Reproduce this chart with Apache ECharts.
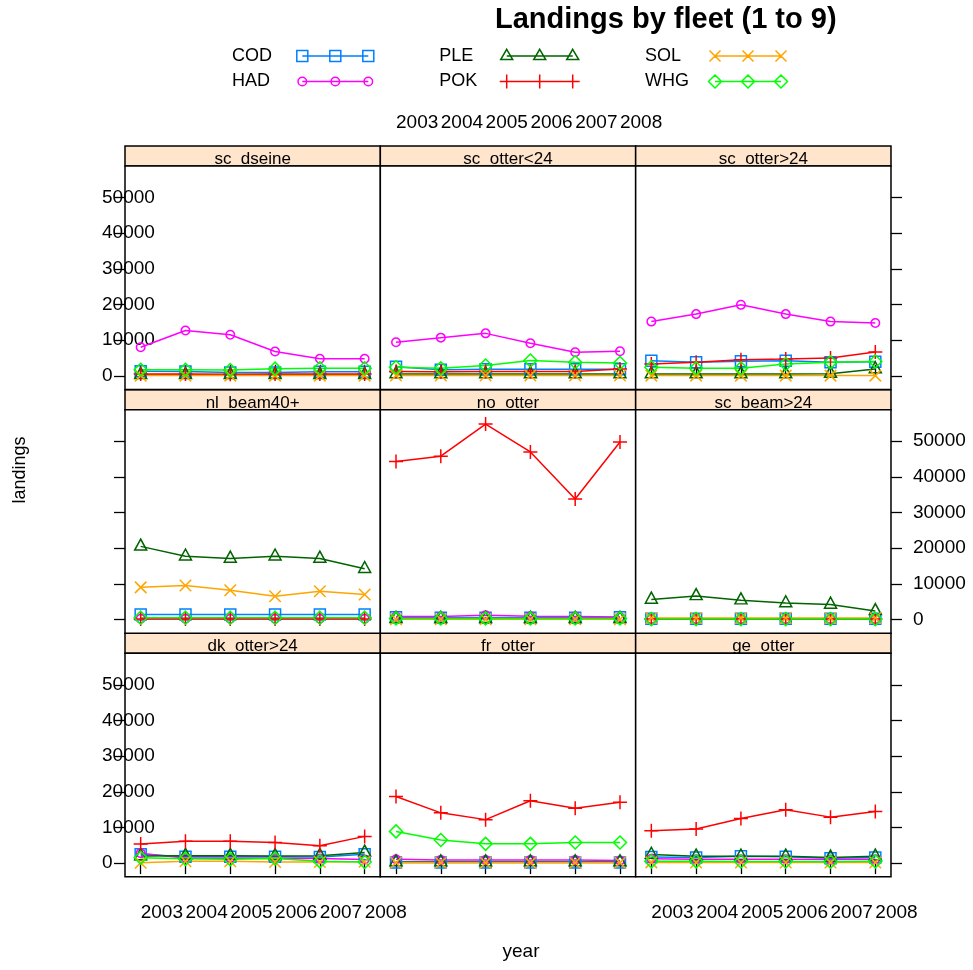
<!DOCTYPE html>
<html><head><meta charset="utf-8">
<script src="https://cdn.jsdelivr.net/npm/echarts@6/dist/echarts.min.js"></script>
<style>html,body{margin:0;padding:0;background:#fff}#c{width:973px;height:970px}</style>
</head><body><div id="c"></div>
<script>
// ---------- data ----------
const years = [2003, 2004, 2005, 2006, 2007, 2008];
const fleets = ['dk_otter>24', 'fr_otter', 'ge_otter', 'nl_beam40+', 'no_otter', 'sc_beam>24', 'sc_dseine', 'sc_otter<24', 'sc_otter>24'];
const yTicks = [0, 10000, 20000, 30000, 40000, 50000];
const species = ['COD', 'HAD', 'PLE', 'POK', 'SOL', 'WHG'];
// one row per fleet (order of `fleets`), one value per year
const COD = [
  [2500, 1800, 1800, 1800, 1700, 2500],
  [200, 150, 150, 150, 150, 200],
  [1700, 1600, 1900, 1800, 1400, 1600],
  [1400, 1400, 1400, 1400, 1400, 1400],
  [600, 500, 500, 500, 500, 600],
  [200, 200, 200, 200, 200, 200],
  [1300, 1200, 900, 900, 1100, 1100],
  [2500, 1700, 1800, 1800, 1800, 1800],
  [4200, 3800, 4100, 4200, 3800, 3900]
];
const HAD = [
  [2800, 1400, 1400, 1400, 1300, 1000],
  [1100, 900, 900, 900, 900, 700],
  [1200, 1100, 1100, 1100, 1000, 1100],
  [200, 200, 200, 200, 200, 200],
  [800, 800, 1200, 900, 800, 700],
  [100, 100, 100, 100, 100, 100],
  [8000, 12700, 11500, 6800, 4800, 4800],
  [9400, 10700, 11900, 9100, 6600, 6900],
  [15200, 17300, 19900, 17300, 15200, 14800]
];
const PLE = [
  [2000, 2100, 2100, 2000, 2100, 3000],
  [300, 300, 300, 300, 300, 300],
  [2400, 1900, 1900, 1900, 1600, 1900],
  [20500, 17700, 17100, 17700, 17100, 14200],
  [200, 200, 200, 200, 200, 200],
  [5600, 6600, 5400, 4600, 4200, 2400],
  [300, 300, 300, 300, 300, 300],
  [500, 500, 500, 500, 500, 500],
  [500, 500, 500, 500, 600, 1900]
];
const POK = [
  [5350, 6100, 6100, 5800, 4900, 7500],
  [18700, 14100, 12200, 17500, 15400, 17100],
  [9100, 9600, 12500, 15000, 12900, 14500],
  [100, 100, 100, 100, 100, 100],
  [44300, 45800, 54800, 47000, 33800, 49800],
  [100, 100, 100, 100, 100, 100],
  [500, 500, 400, 500, 500, 500],
  [1200, 1100, 1200, 1200, 1200, 1900],
  [3300, 3800, 4500, 4700, 5000, 6700]
];
const SOL = [
  [100, 500, 500, 300, 300, 400],
  [100, 100, 100, 100, 100, 100],
  [200, 150, 150, 150, 150, 150],
  [9000, 9500, 8200, 6500, 7900, 7000],
  [50, 50, 50, 50, 50, 50],
  [400, 400, 400, 400, 400, 400],
  [50, 50, 50, 50, 50, 50],
  [100, 100, 100, 100, 100, 100],
  [50, 50, 50, 50, 50, 50]
];
const WHG = [
  [1500, 1200, 1100, 1300, 500, 300],
  [8900, 6500, 5400, 5400, 5800, 5800],
  [500, 500, 450, 450, 400, 500],
  [500, 500, 500, 500, 500, 500],
  [300, 300, 300, 300, 300, 300],
  [100, 100, 100, 100, 100, 100],
  [1700, 1700, 1600, 2000, 2100, 2100],
  [2400, 2100, 2900, 4300, 3800, 3600],
  [2400, 2100, 2100, 3300, 3800, 4000]
];
const DATA = { COD, HAD, PLE, POK, SOL, WHG };

// ---------- styles ----------
const FONT = "'Liberation Sans', Arial, Helvetica, sans-serif";
const COLORS = { COD: '#0080ff', HAD: '#ff00ff', PLE: '#006400', POK: '#ff0000', SOL: '#ffa500', WHG: '#00ff00' };
const SYMBOLS = {
  COD: { symbol: 'rect', size: 11, offset: [0, 0] },
  HAD: { symbol: 'circle', size: 8.5, offset: [0, 0] },
  PLE: { symbol: 'triangle', size: [12, 11], offset: [0, -1.8] },
  POK: { symbol: 'path://M7 0L7 14M0 7L14 7', size: 14, offset: [0, 0] },
  SOL: { symbol: 'path://M0 0L10 10M10 0L0 10', size: 11.5, offset: [0, 0] },
  WHG: { symbol: 'diamond', size: 13, offset: [0, 0] }
};
const LW = 1.5;

// layout
const L0 = 125, CW = 255.33, T0 = 166, RH = 243.67, PH = 223.5, SH = 20;
const XMIN = 2002.65, XMAX = 2008.35, YMIN = -3850, YMAX = 58850;

function legendIcon(sp) {
  const cs = [7, 40, 73];
  let p = 'M0 0L0 0M80 14L80 14M7 7L73 7';
  cs.forEach(c => {
    if (sp === 'COD') p += `M${c - 5.5} 1.5L${c + 5.5} 1.5L${c + 5.5} 12.5L${c - 5.5} 12.5Z`;
    if (sp === 'HAD') p += `M${c + 4.25} 7A4.25 4.25 0 1 1 ${c - 4.25} 7A4.25 4.25 0 1 1 ${c + 4.25} 7Z`;
    if (sp === 'PLE') p += `M${c} 0.3L${c + 6} 10.6L${c - 6} 10.6Z`;
    if (sp === 'POK') p += `M${c} 0L${c} 14M${c - 7} 7L${c + 7} 7`;
    if (sp === 'SOL') p += `M${c - 5.5} 1.5L${c + 5.5} 12.5M${c + 5.5} 1.5L${c - 5.5} 12.5`;
    if (sp === 'WHG') p += `M${c} 0.5L${c + 6.5} 7L${c} 13.5L${c - 6.5} 7Z`;
  });
  return 'path://' + p;
}

const grids = [], xAxes = [], yAxes = [], series = [], graphics = [];
const labelStyle = { color: '#000', fontSize: 19, fontFamily: FONT };
fleets.forEach((f, i) => {
  const r = 2 - Math.floor(i / 3), c = i % 3;
  const left = L0 + c * CW, top = T0 + r * RH;
  grids.push({ left, top, width: CW, height: PH, show: true, backgroundColor: '#fff', borderColor: '#000', borderWidth: 1.5, containLabel: false, outerBoundsMode: 'none' });
  xAxes.push({
    gridIndex: i, type: 'value', min: XMIN, max: XMAX,
    position: r === 0 ? 'top' : 'bottom', offset: r === 0 ? SH : 0,
    show: r !== 1,
    axisLine: { show: false }, splitLine: { show: false },
    axisTick: { show: true, inside: false, length: 11, customValues: years, lineStyle: { color: '#000', width: 1.3 } },
    axisLabel: Object.assign({ show: (r === 0 && c === 1) || (r === 2 && c !== 1), customValues: years, align: 'left', margin: r === 0 ? 14 : 26, formatter: v => String(v) }, labelStyle)
  });
  yAxes.push({
    gridIndex: i, type: 'value', min: YMIN, max: YMAX,
    position: c === 2 ? 'right' : 'left',
    show: c !== 1,
    axisLine: { show: false }, splitLine: { show: false },
    axisTick: { show: true, inside: false, length: 11, customValues: yTicks, lineStyle: { color: '#000', width: 1.3 } },
    axisLabel: Object.assign({ show: (c === 0 && r !== 1) || (c === 2 && r === 1), customValues: yTicks, align: 'left', margin: c === 0 ? 23 : 22, formatter: v => String(v) }, labelStyle)
  });
  // strip
  graphics.push({ type: 'rect', z: -10, silent: true, shape: { x: left, y: top - SH, width: CW, height: SH }, style: { fill: '#ffe5cc', stroke: '#000', lineWidth: 1.5 } });
  graphics.push({ type: 'text', z: -9, silent: true, x: left + CW / 2, y: top - SH + 13.2, style: { text: f, fill: '#000', font: `17px ${FONT}`, align: 'center', verticalAlign: 'middle' } });
  species.forEach(sp => {
    const s = SYMBOLS[sp];
    series.push({
      type: 'line', name: sp, xAxisIndex: i, yAxisIndex: i,
      data: years.map((y, k) => [y, DATA[sp][i][k]]),
      symbol: s.symbol, symbolSize: s.size, symbolOffset: s.offset, showSymbol: true, showAllSymbol: true,
      lineStyle: { color: COLORS[sp], width: LW },
      itemStyle: { color: 'rgba(0,0,0,0)', borderColor: COLORS[sp], borderWidth: LW },
      emphasis: { disabled: true }, silent: true, animation: false, clip: false
    });
  });
});

graphics.push({ type: 'text', silent: true, x: 20, y: 470, rotation: Math.PI / 2, style: { text: 'landings', fill: '#000', font: `18px ${FONT}`, align: 'center', verticalAlign: 'middle' } });
graphics.push({ type: 'text', silent: true, x: 521, y: 952, style: { text: 'year', fill: '#000', font: `19px ${FONT}`, align: 'center', verticalAlign: 'middle' } });

const legLeft = [232, 439.3, 645], legW = [58.3, 55.4, 58];
const legends = [0, 1, 2].map(j => ({
  orient: 'vertical', left: legLeft[j], top: 47, padding: 0, itemGap: 7.5, itemWidth: 80, itemHeight: 14, align: 'right', selectedMode: false,
  data: species.slice(2 * j, 2 * j + 2).map(sp => ({ name: sp, icon: legendIcon(sp), itemStyle: { color: 'rgba(0,0,0,0)', borderColor: COLORS[sp], borderWidth: LW } })),
  formatter: '{a|{name}}',
  textStyle: { color: '#000', fontSize: 18, fontFamily: FONT, rich: { a: { width: legW[j], align: 'left', color: '#000', fontSize: 18, fontFamily: FONT } } }
}));

const chart = echarts.init(document.getElementById('c'), null, { renderer: 'canvas' });
chart.setOption({
  animation: false,
  backgroundColor: '#fff',
  title: { text: 'Landings by fleet (1 to 9)', left: 495, top: 5, padding: 0, textStyle: { fontSize: 29, fontWeight: 'bold', color: '#000', fontFamily: FONT } },
  legend: legends,
  grid: grids, xAxis: xAxes, yAxis: yAxes, series,
  graphic: { elements: graphics }
});
</script></body></html>
